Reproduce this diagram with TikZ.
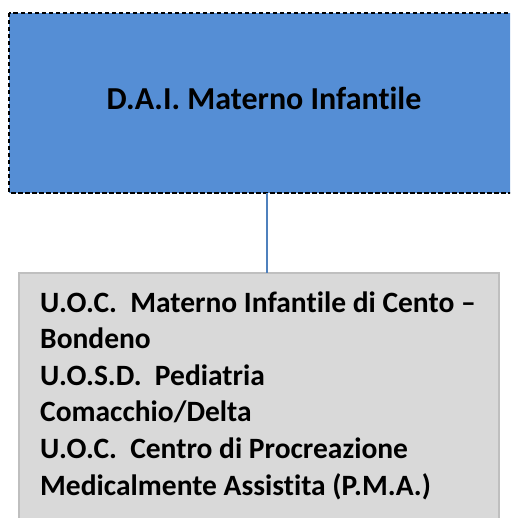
\documentclass[tikz,border=0pt]{standalone}
\usepackage{fontspec}
\setmainfont{Carlito}[Ligatures=NoCommon]
\definecolor{boxblue}{HTML}{558ED5}
\definecolor{boxgray}{HTML}{D9D9D9}
\definecolor{grayedge}{HTML}{BFBFBF}
\definecolor{linkblue}{HTML}{4F81BD}
\begin{document}
\begin{tikzpicture}[x=1pt,y=1pt,
  topbox/.style={draw=black, dash pattern=on 4.5pt off 2.5pt, line width=1.4pt, fill=boxblue},
  unitbox/.style={draw=grayedge, line width=1.2pt, fill=boxgray},
  link/.style={draw=linkblue, line width=1.1pt}]
\useasboundingbox (0,0) rectangle (510,-518);
\clip (0,0) rectangle (510,-518);
\path[topbox] (9,-13) rectangle (530,-193);
\node[font=\bfseries\fontsize{32}{38}\selectfont, anchor=base] (dai) at (264,-110) {D.A.I. Materno Infantile};
\coordinate (topb) at (267,-193);
\path[unitbox] (19,-273) rectangle (499,-540);
\coordinate (grayt) at (267,-273);
\draw[link] (topb) -- (grayt);
\node[font=\bfseries\fontsize{29.5}{36.6}\selectfont, anchor=base west, align=left, inner sep=0pt] (units) at (40,-495)
{U.O.C.\ \ Materno Infantile di Cento –\\
Bondeno\\
U.O.S.D.\ \ Pediatria\\
Comacchio/Delta\\
U.O.C.\ \ Centro di Procreazione\\
Medicalmente Assistita (P.M.A.)};
\end{tikzpicture}
\end{document}
